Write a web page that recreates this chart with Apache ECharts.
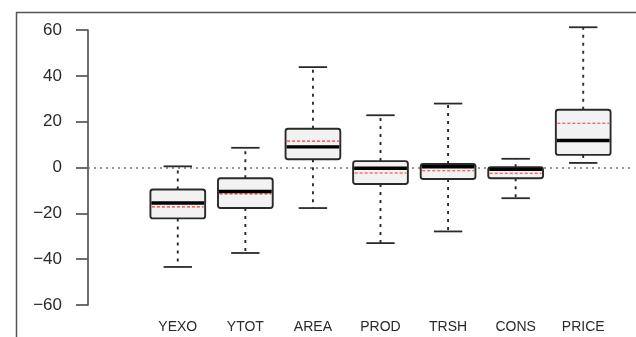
<!DOCTYPE html>
<html>
<head>
<meta charset="utf-8">
<script src="https://cdn.jsdelivr.net/npm/echarts@6/dist/echarts.min.js"></script>
<style>html,body{margin:0;padding:0;background:#fff}#c{width:636px;height:337px}</style>
</head>
<body>
<div id="c"></div>
<script>
const categories = ['YEXO', 'YTOT', 'AREA', 'PROD', 'TRSH', 'CONS', 'PRICE'];
const whiskerLow  = [-43.4, -37.3, -17.7, -33.0, -27.9, -13.4, 2.0];
const quartile1   = [-22.2, -17.7, 3.6, -7.2, -5.0, -4.7, 5.5];
const medianVals  = [-15.5, -10.5, 9.0, -0.3, 0.3, -0.8, 11.8];
const quartile3   = [-9.6, -4.7, 16.9, 2.8, 1.5, 0.1, 25.2];
const whiskerHigh = [0.5, 8.6, 43.8, 22.8, 27.9, 3.8, 61.2];
const meanVals    = [-17.2, -11.5, 11.5, -2.4, -1.4, -2.5, 19.3];
const yTicks = [-60, -40, -20, 0, 20, 40, 60];

const boxData = categories.map((c, i) => [i, whiskerLow[i], quartile1[i], medianVals[i], quartile3[i], whiskerHigh[i], meanVals[i]]);

const dark = '#2a2a2a';
function renderItem(params, api) {
  const i = api.value(0);
  const pLo = api.coord([i, api.value(1)]);
  const pQ1 = api.coord([i, api.value(2)]);
  const pMed = api.coord([i, api.value(3)]);
  const pQ3 = api.coord([i, api.value(4)]);
  const pHi = api.coord([i, api.value(5)]);
  const pMean = api.coord([i, api.value(6)]);
  const bw = api.size([1, 0])[0];
  const boxW = bw * 0.81;
  const capW = bw * 0.42;
  const x = pMed[0];
  const dash = { stroke: dark, lineWidth: 1.9, lineDash: [3, 5] };
  const solid = { stroke: dark, lineWidth: 1.8 };
  return {
    type: 'group',
    children: [
      { type: 'line', shape: { x1: x, y1: pQ3[1], x2: x, y2: pHi[1] }, style: dash },
      { type: 'line', shape: { x1: x, y1: pQ1[1], x2: x, y2: pLo[1] }, style: dash },
      { type: 'line', shape: { x1: x - capW / 2, y1: pHi[1], x2: x + capW / 2, y2: pHi[1] }, style: solid },
      { type: 'line', shape: { x1: x - capW / 2, y1: pLo[1], x2: x + capW / 2, y2: pLo[1] }, style: solid },
      { type: 'rect', shape: { x: x - boxW / 2, y: pQ3[1], width: boxW, height: pQ1[1] - pQ3[1], r: 2.5 },
        style: { fill: '#f2f2f2', stroke: dark, lineWidth: 1.9 } },
      { type: 'line', shape: { x1: x - boxW / 2 + 1.5, y1: pMean[1], x2: x + boxW / 2 - 1.5, y2: pMean[1] },
        style: { stroke: '#ff3030', lineWidth: 1.1, lineDash: [3, 2] } },
      { type: 'line', shape: { x1: x - boxW / 2 + 1, y1: pMed[1], x2: x + boxW / 2 - 1, y2: pMed[1] },
        style: { stroke: '#000', lineWidth: 3.4 } }
    ]
  };
}

const chart = echarts.init(document.getElementById('c'), null, { renderer: 'canvas' });
chart.setOption({
  animation: false,
  backgroundColor: '#fff',
  graphic: [{
    type: 'rect', left: 14, top: 10, z: -10,
    shape: { width: 700, height: 400 },
    style: { fill: 'none', stroke: '#555', lineWidth: 1.5 }
  }],
  grid: [
    { left: 144, right: 19, top: 30, bottom: 32 },
    { left: 88, right: 6, top: 30, bottom: 32 }
  ],
  xAxis: [
    { type: 'category', gridIndex: 0, data: categories,
      axisLine: { show: false }, axisTick: { show: false },
      axisLabel: { margin: 15, color: '#2a2a2a', fontSize: 14, fontFamily: 'Liberation Sans, Arial, sans-serif' } },
    { type: 'value', gridIndex: 1, show: false, min: 0, max: 1 }
  ],
  yAxis: [
    { type: 'value', gridIndex: 0, min: -60, max: 60, interval: 20, offset: 56,
      axisLine: { show: true, lineStyle: { color: '#555', width: 1.7 } },
      axisTick: { show: true, length: 12, lineStyle: { color: '#555', width: 1.7 } },
      splitLine: { show: false },
      axisLabel: { margin: 26, color: '#2a2a2a', fontSize: 17, fontFamily: 'Liberation Sans, Arial, sans-serif',
        formatter: v => yTicks.includes(v) ? String(v).replace('-', '\u2212') : '' } },
    { type: 'value', gridIndex: 1, min: -60, max: 60, show: false }
  ],
  series: [
    { type: 'line', xAxisIndex: 1, yAxisIndex: 1, data: [], z: 1,
      markLine: { silent: true, symbol: 'none', label: { show: false },
        lineStyle: { color: '#777', type: [2, 4], width: 1.5 },
        data: [{ yAxis: 0 }] } },
    { type: 'custom', xAxisIndex: 0, yAxisIndex: 0, z: 5, renderItem: renderItem,
      encode: { x: 0, y: [1, 2, 3, 4, 5, 6] }, data: boxData }
  ]
});
</script>
</body>
</html>
